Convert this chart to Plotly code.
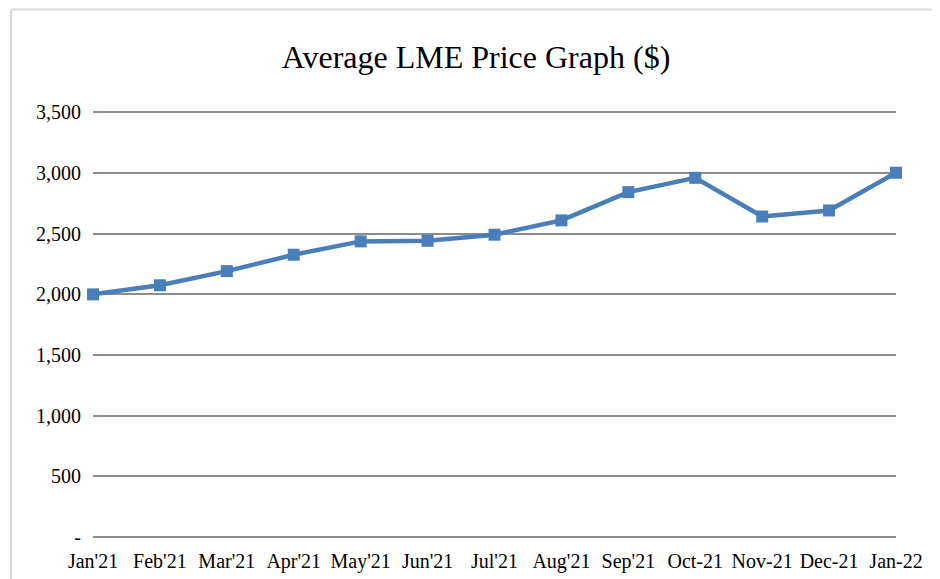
import plotly.graph_objects as go

months = ["Jan'21", "Feb'21", "Mar'21", "Apr'21", "May'21", "Jun'21", "Jul'21",
          "Aug'21", "Sep'21", "Oct-21", "Nov-21", "Dec-21", "Jan-22"]
prices = [2000, 2075, 2192, 2327, 2437, 2442, 2492, 2610, 2843, 2961, 2642, 2692, 3003]
y_tick_vals = [0, 500, 1000, 1500, 2000, 2500, 3000, 3500]
y_tick_text = ["-", "500", "1,000", "1,500", "2,000", "2,500", "3,000", "3,500"]

W, H = 940, 579
OFF = 8  # page body margin
Y_MAX = 3520
px_per_unit = (537 - 112) / 3500
top_px = 537 - Y_MAX * px_per_unit
L, R, T, B = 93 - OFF, W - (896 - OFF), top_px - OFF, H - (537 - OFF)
pw, ph = W - L - R, H - T - B

fig = go.Figure()
fig.add_trace(go.Scatter(
    x=list(range(len(months))), y=prices, mode="lines+markers",
    line=dict(color="#4A7EBB", width=4.5),
    marker=dict(symbol="square", size=12, color="#4A7EBB"),
    cliponaxis=False, showlegend=False,
))

font = "Liberation Serif, Times New Roman, serif"
fig.update_layout(
    width=W, height=H,
    margin=dict(l=L, r=R, t=T, b=B),
    paper_bgcolor="white", plot_bgcolor="white",
    font=dict(family=font, size=20, color="#000000"),
    title=dict(text="Average LME Price Graph ($)", xref="container", x=(476 - OFF) / W,
               xanchor="center", y=1 - (57 - OFF) / H, yanchor="middle",
               font=dict(family=font, size=32, color="#000000")),
    xaxis=dict(
        range=[0, len(months) - 1],
        tickmode="array", tickvals=list(range(len(months))), ticktext=months,
        showgrid=False, zeroline=False, showline=False,
        ticks="outside", ticklen=6, tickcolor="rgba(0,0,0,0)",
        tickfont=dict(family=font, size=20),
    ),
    yaxis=dict(
        range=[0, Y_MAX],
        tickmode="array", tickvals=y_tick_vals, ticktext=y_tick_text,
        showgrid=True, gridcolor="#8C8C8C", gridwidth=1.5,
        zeroline=True, zerolinecolor="#8C8C8C", zerolinewidth=1.5,
        showline=False,
        ticks="outside", ticklen=7, tickcolor="rgba(0,0,0,0)",
        tickfont=dict(family=font, size=20),
    ),
)

# chart-area border (top and left edges visible)
x_left = (11 - OFF - L) / pw
y_top = (H - B - 1) / ph
fig.add_shape(type="line", xref="paper", yref="paper", x0=x_left, x1=(W + 5 - L) / pw,
              y0=y_top, y1=y_top, line=dict(color="#D9D9D9", width=2))
fig.add_shape(type="line", xref="paper", yref="paper", x0=x_left, x1=x_left,
              y0=y_top, y1=-B / ph - 0.05, line=dict(color="#D9D9D9", width=2))

fig.write_html("out.html")
